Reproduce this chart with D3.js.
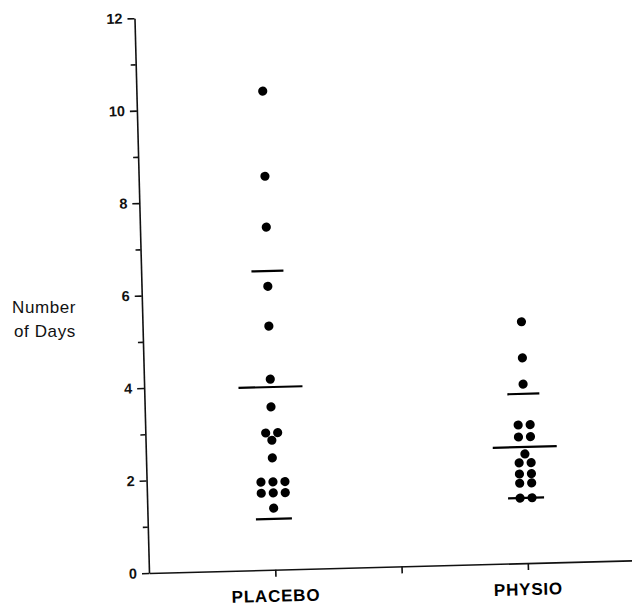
<!DOCTYPE html>
<html>
<head>
<meta charset="utf-8">
<script src="https://cdn.jsdelivr.net/npm/d3@7"></script>
<style>
  body { margin: 0; background: #fff; }
  svg { display: block; font-family: "Liberation Sans", Arial, sans-serif; }
  .axis path, .axis line { stroke: #111; stroke-width: 1.6; }
  .axis text { fill: #111; font-size: 14.5px; font-weight: bold; }
</style>
</head>
<body>
<svg id="chart" width="632" height="609"></svg>
<script>
// scatter of days per patient, placebo vs physio, with mean and +/- lines

var categories = ["PLACEBO", "PHYSIO"];
var placeboDays = [10.35, 8.51, 7.41, 6.13, 5.27, 4.12, 3.52, 2.96, 2.96, 2.80, 2.42,
                   1.90, 1.90, 1.90, 1.66, 1.66, 1.66, 1.33];
var physioDays = [5.22, 4.44, 3.87, 2.99, 2.99, 2.73, 2.73, 2.36, 2.17, 2.17,
                  1.93, 1.93, 1.73, 1.73, 1.41, 1.41];
var meanDays = [3.95, 2.51];
var upperDays = [6.46, 3.66];
var lowerDays = [1.10, 1.41];
var yTicks = [0, 1, 2, 3, 4, 5, 6, 7, 8, 9, 10, 11, 12];
var xTicks = [1, 1.5, 2];

var svg = d3.select("#chart"),
    origin = {x: 149, y: 573};

// the scanned figure sits a little tilted, so the plot group is turned slightly
var g = svg.append("g")
    .attr("transform", "rotate(-1.5," + origin.x + "," + origin.y + ")");

var y = d3.scaleLinear().domain([0, 12]).range([origin.y, 18]);
var x = d3.scaleLinear().domain([0.5, 2.42]).range([origin.x, 634]);

// y axis: labelled even ticks, short unlabelled odd ticks
g.append("g")
    .attr("class", "axis")
    .attr("transform", "translate(" + origin.x + ",0)")
    .call(d3.axisLeft(y)
        .tickValues(yTicks.filter(function(d) { return d % 2 == 0; }))
        .tickSize(7).tickSizeOuter(0).tickPadding(5)
        .tickFormat(d3.format("d")));

g.append("g")
    .attr("class", "axis")
    .attr("transform", "translate(" + origin.x + ",0)")
    .call(d3.axisLeft(y)
        .tickValues(yTicks.filter(function(d) { return d % 2 == 1; }))
        .tickSize(5).tickSizeOuter(0).tickFormat(""))
    .select(".domain").remove();

// x axis
g.append("g")
    .attr("class", "axis")
    .attr("transform", "translate(0," + origin.y + ")")
    .call(d3.axisBottom(x).tickValues(xTicks).tickSize(7).tickSizeOuter(0).tickFormat(""));

g.selectAll(".cat")
    .data(categories)
    .enter().append("text")
    .attr("class", "cat")
    .attr("x", function(d, i) { return x(i + 1); })
    .attr("y", origin.y + 32)
    .attr("text-anchor", "middle")
    .style("font-size", "17px")
    .style("font-weight", "bold")
    .style("letter-spacing", "0.8px")
    .text(function(d) { return d; });

// dots, equal values spread side by side
var spacing = 12;
[placeboDays, physioDays].forEach(function(vals, ci) {
    var counts = {}, seen = {};
    vals.forEach(function(v) { counts[v] = (counts[v] || 0) + 1; });
    var pts = vals.map(function(v) {
        var k = seen[v] || 0;
        seen[v] = k + 1;
        return {v: v, off: (k - (counts[v] - 1) / 2) * spacing};
    });
    g.append("g")
        .selectAll("circle")
        .data(pts)
        .enter().append("circle")
        .attr("cx", function(d) { return x(ci + 1) + d.off; })
        .attr("cy", function(d) { return y(d.v); })
        .attr("r", 4.6)
        .attr("fill", "#000");
});

// mean and spread lines
function hline(vals, half) {
    g.append("g")
        .selectAll("line")
        .data(vals)
        .enter().append("line")
        .attr("x1", function(d, i) { return x(i + 1) - half; })
        .attr("x2", function(d, i) { return x(i + 1) + half; })
        .attr("y1", function(d) { return y(d); })
        .attr("y2", function(d) { return y(d); })
        .attr("stroke", "#000")
        .attr("stroke-width", 2.2);
}
hline(meanDays, 32);
hline(upperDays, 16);
hline(lowerDays, 18);

// y title
var title = svg.append("text")
    .attr("x", 12)
    .attr("y", 313)
    .style("font-size", "17px")
    .style("letter-spacing", "0.6px")
    .attr("fill", "#111");
title.append("tspan").attr("x", 12).text("Number");
title.append("tspan").attr("x", 14).attr("dy", 24).text("of Days");
</script>
</body>
</html>
